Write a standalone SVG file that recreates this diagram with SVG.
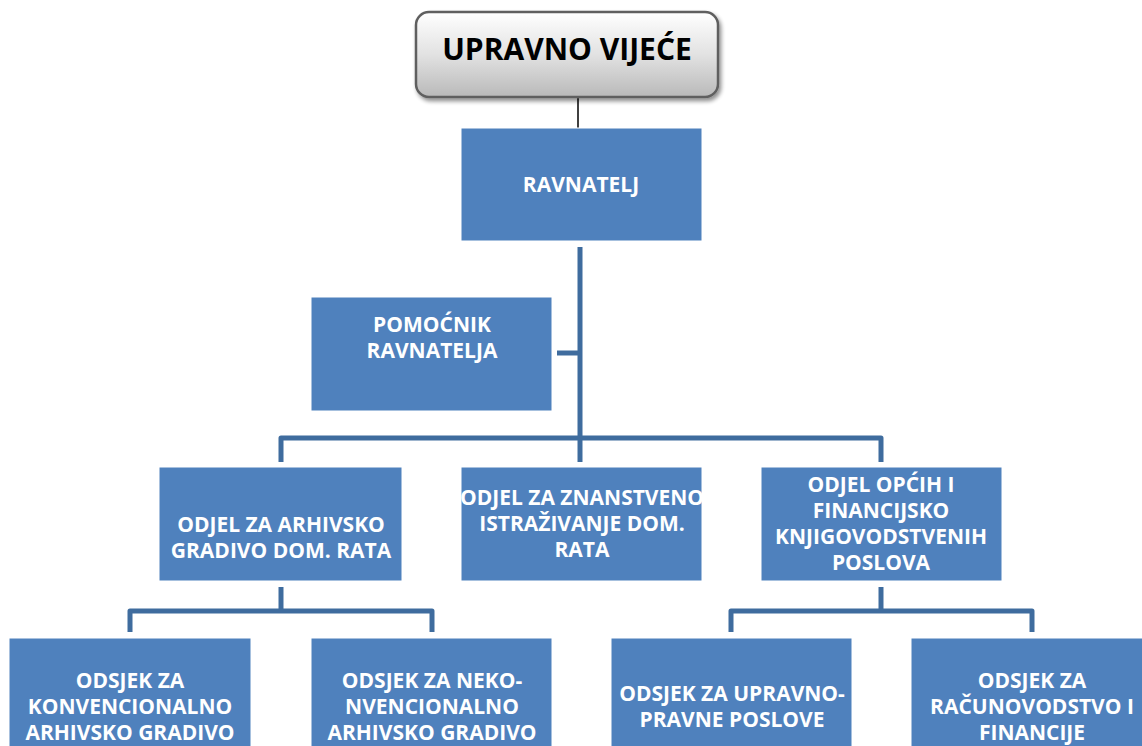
<svg xmlns="http://www.w3.org/2000/svg" width="1142" height="746" viewBox="0 0 1142 746">
<defs>
<linearGradient id="gray" x1="0" y1="0" x2="0" y2="1">
<stop offset="0" stop-color="#ffffff"/>
<stop offset="0.5" stop-color="#e2e2e2"/>
<stop offset="1" stop-color="#b9b9b9"/>
</linearGradient>
<filter id="sh" x="-10%" y="-10%" width="130%" height="140%">
<feGaussianBlur in="SourceAlpha" stdDeviation="2"/>
<feOffset dx="2" dy="3"/>
<feComponentTransfer><feFuncA type="linear" slope="0.45"/></feComponentTransfer>
<feMerge><feMergeNode/><feMergeNode in="SourceGraphic"/></feMerge>
</filter>
</defs>
<style>
.box{fill:#4F81BD;stroke:#ffffff;stroke-width:1}
.t{font-family:"Open Sans","Liberation Sans",sans-serif;font-weight:bold;font-size:21px;fill:#ffffff;text-anchor:middle}
.c{fill:none;stroke:#3F6C9E;stroke-width:5;stroke-linejoin:round}
.top{font-family:"Open Sans","Liberation Sans",sans-serif;font-weight:bold;font-size:30px;fill:#000000;text-anchor:middle}
</style>
<rect width="1142" height="746" fill="#ffffff"/>
<g id="connectors">
<line x1="578" y1="97" x2="578" y2="130" stroke="#000" stroke-width="1.5"/>
<path class="c" d="M580 247 V437"/>
<path class="c" d="M557 353 H580"/>
<path class="c" d="M281 462 V438 H881 V462"/>
<path class="c" d="M580 438 V462"/>
<path class="c" d="M281 587 V611"/>
<path class="c" d="M130 632 V611 H432 V632"/>
<path class="c" d="M881 587 V611"/>
<path class="c" d="M731 632 V611 H1032 V632"/>
</g>
<g id="upravno">
<rect x="416" y="12" width="302" height="85" rx="13" fill="url(#gray)" stroke="#5f5f5f" stroke-width="2.5" filter="url(#sh)"/>
<text class="top" x="567" y="60">UPRAVNO VIJEĆE</text>
</g>
<g id="ravnatelj">
<rect class="box" x="461" y="128" width="241" height="113"/>
<text class="t" x="581" y="192">RAVNATELJ</text>
</g>
<g id="pomocnik">
<rect class="box" x="311" y="297" width="241" height="114"/>
<text class="t" x="432" y="332">POMOĆNIK</text>
<text class="t" x="432" y="358">RAVNATELJA</text>
</g>
<g id="odjel-arhivsko">
<rect class="box" x="159" y="467" width="243" height="114"/>
<text class="t" x="281" y="532">ODJEL ZA ARHIVSKO</text>
<text class="t" x="281" y="558">GRADIVO DOM. RATA</text>
</g>
<g id="odjel-znanstveno">
<rect class="box" x="461" y="467" width="241" height="114"/>
<text class="t" x="582" y="505">ODJEL ZA ZNANSTVENO</text>
<text class="t" x="582" y="531">ISTRAŽIVANJE DOM.</text>
<text class="t" x="582" y="557">RATA</text>
</g>
<g id="odjel-opcih">
<rect class="box" x="761" y="467" width="241" height="114"/>
<text class="t" x="881" y="492">ODJEL OPĆIH I</text>
<text class="t" x="881" y="518">FINANCIJSKO</text>
<text class="t" x="881" y="544">KNJIGOVODSTVENIH</text>
<text class="t" x="881" y="570">POSLOVA</text>
</g>
<g id="odsjek-konvencionalno">
<rect class="box" x="9" y="638" width="242" height="120"/>
<text class="t" x="130" y="688">ODSJEK ZA</text>
<text class="t" x="130" y="714">KONVENCIONALNO</text>
<text class="t" x="130" y="740">ARHIVSKO GRADIVO</text>
</g>
<g id="odsjek-nekonvencionalno">
<rect class="box" x="311" y="638" width="241" height="120"/>
<text class="t" x="432" y="688">ODSJEK ZA NEKO-</text>
<text class="t" x="432" y="714">NVENCIONALNO</text>
<text class="t" x="432" y="740">ARHIVSKO GRADIVO</text>
</g>
<g id="odsjek-upravno">
<rect class="box" x="611" y="638" width="241" height="120"/>
<text class="t" x="732" y="701">ODSJEK ZA UPRAVNO-</text>
<text class="t" x="732" y="727">PRAVNE POSLOVE</text>
</g>
<g id="odsjek-racunovodstvo">
<rect class="box" x="911" y="638" width="241" height="120"/>
<text class="t" x="1032" y="688">ODSJEK ZA</text>
<text class="t" x="1032" y="714">RAČUNOVODSTVO I</text>
<text class="t" x="1032" y="740">FINANCIJE</text>
</g>
</svg>
